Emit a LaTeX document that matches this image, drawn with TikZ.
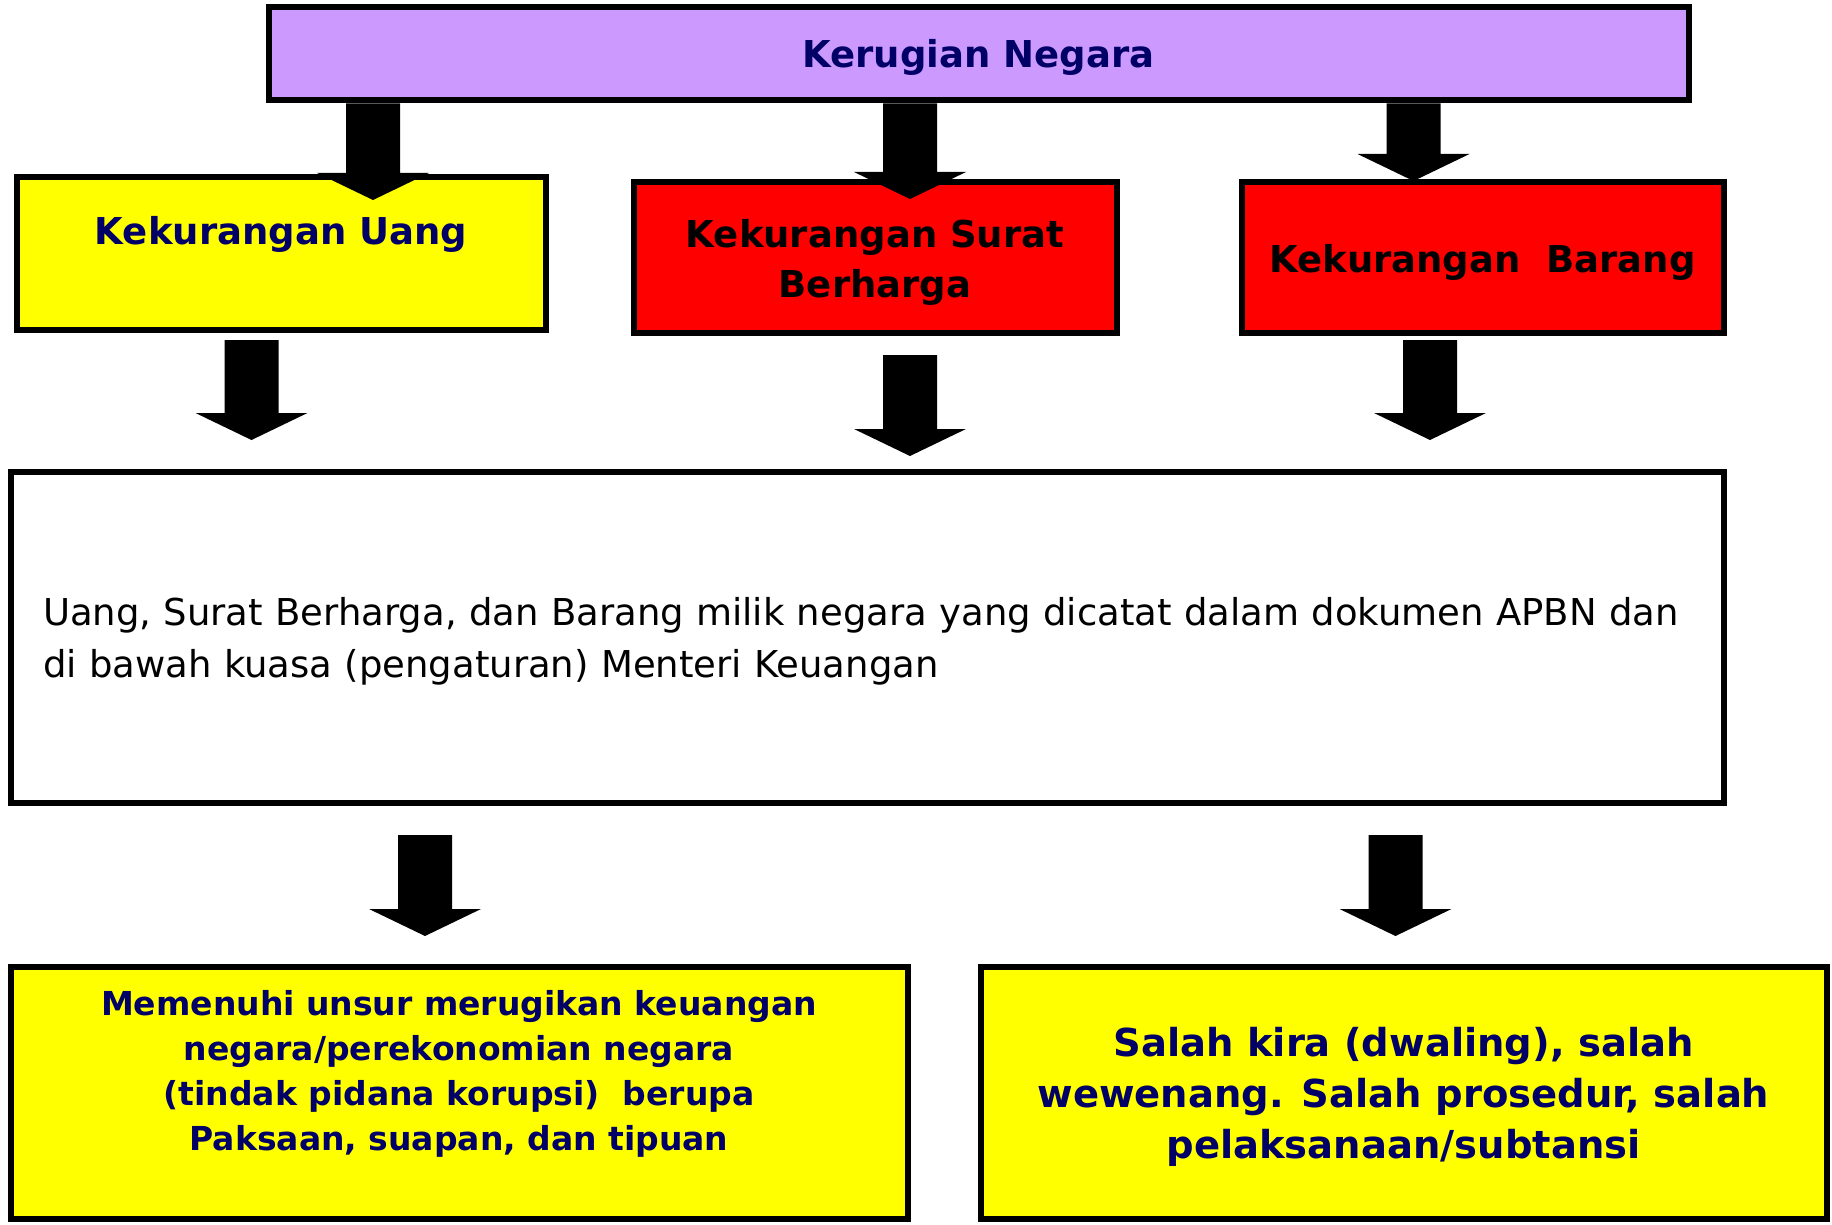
\documentclass[tikz,border=0pt]{standalone}
\usepackage{fontspec}
\setmainfont{DejaVu Sans}
\usetikzlibrary{calc}
\definecolor{lavender}{HTML}{CC99FF}
\definecolor{navytext}{HTML}{000066}
\definecolor{boxyellow}{HTML}{FFFF00}
\definecolor{boxred}{HTML}{FF0000}

\tikzset{
    box/.style={draw=black, line width=6pt, inner sep=0pt, align=center},
    headfont/.style={font=\fontsize{37pt}{50pt}\selectfont\bfseries},
    blockarrow/.style={to path={
        let \p1=(\tikztostart), \p2=(\tikztotarget) in
        (\x1-27pt,\y1) -- (\x1+27pt,\y1) -- (\x1+27pt,\y2+27pt) -- (\x1+56pt,\y2+27pt)
        -- (\x1,\y2) -- (\x1-56pt,\y2+27pt) -- (\x1-27pt,\y2+27pt) -- cycle}}
}

\begin{document}
\begin{tikzpicture}[x=1pt,y=-1pt]
        \useasboundingbox (0,0) rectangle (1832,1225);
        % --- Boxes ---
        \node[box, fill=lavender, text=navytext, headfont, minimum width=1420pt, minimum height=93pt] (kn) at (978.5,54) {\rule{0pt}{35pt}Kerugian Negara};
        \node[box, fill=boxyellow, text=navytext, font=\fontsize{37pt}{47pt}\selectfont\bfseries, minimum width=529pt, minimum height=152pt] (ku) at (281,253.5) {Kekurangan Uang\\ \mbox{}};
        \node[box, fill=boxred, headfont, minimum width=483pt, minimum height=150pt] (ks) at (875,257.5) {\rule{0pt}{38pt}Kekurangan Surat\\Berharga};
        \node[box, fill=boxred, headfont, minimum width=482pt, minimum height=150pt] (kb) at (1482.5,257.5) {\rule{0pt}{38pt}Kekurangan\ \ Barang};
        \node[box, fill=white, font=\fontsize{37pt}{52pt}\selectfont, align=left, text width=1648pt, minimum width=1713pt, minimum height=331pt] (milik) at (867,637) {\rule{0pt}{36pt}Uang, Surat Berharga, dan Barang milik negara yang dicatat dalam dokumen APBN dan\\di bawah kuasa (pengaturan) Menteri Keuangan};
        \node[box, fill=boxyellow, text=navytext, font=\fontsize{33pt}{45pt}\selectfont\bfseries, minimum width=897pt, minimum height=252pt] (pidana) at (459,1092.5) {Memenuhi unsur merugikan keuangan\\negara/perekonomian negara\\(tindak pidana korupsi)\ \ berupa\\Paksaan, suapan, dan tipuan\\ \mbox{}};
        \node[box, fill=boxyellow, text=navytext, font=\fontsize{38.5pt}{51pt}\selectfont\bfseries, minimum width=846pt, minimum height=252pt] (salah) at (1403.5,1092.5) {\rule{0pt}{37pt}Salah kira (dwaling), salah\\wewenang. Salah prosedur, salah\\pelaksanaan/subtansi};
        % --- Arrow ends ---
        \coordinate (t1) at (373,200);
        \coordinate (t2) at (910,199);
        \coordinate (t3) at (1413.5,181);
        \coordinate (m1s) at (251.5,340);  \coordinate (m1e) at (251.5,440);
        \coordinate (m2s) at (910,355);    \coordinate (m2e) at (910,456);
        \coordinate (m3s) at (1430,340);   \coordinate (m3e) at (1430,440);
        \coordinate (b1s) at (425,835);    \coordinate (b1e) at (425,936);
        \coordinate (b2s) at (1395.5,835); \coordinate (b2e) at (1395.5,936);
        % --- Arrows ---
        \fill (t1 |- kn.south) to[blockarrow] (t1);
        \fill (t2 |- kn.south) to[blockarrow] (t2);
        \fill (t3 |- kn.south) to[blockarrow] (t3);
        \fill (m1s) to[blockarrow] (m1e);
        \fill (m2s) to[blockarrow] (m2e);
        \fill (m3s) to[blockarrow] (m3e);
        \fill (b1s) to[blockarrow] (b1e);
        \fill (b2s) to[blockarrow] (b2e);
    \end{tikzpicture}
\end{document}
